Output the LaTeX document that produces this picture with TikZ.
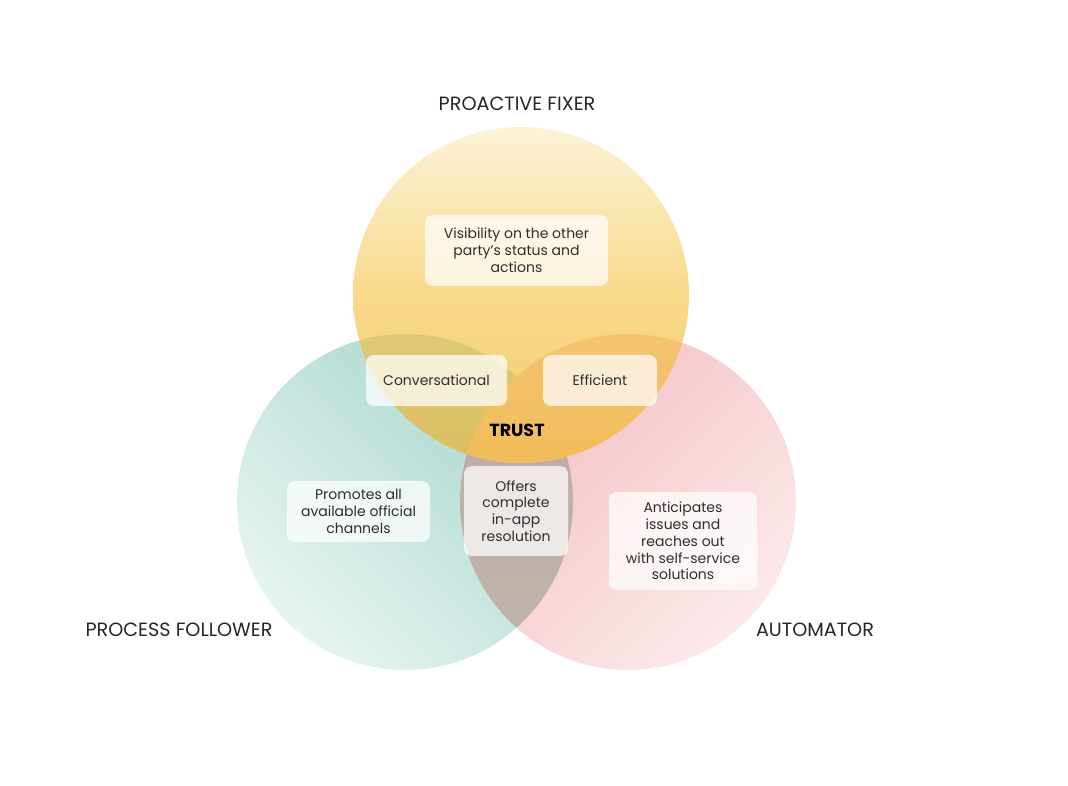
\documentclass[tikz,border=0pt]{standalone}
\usepackage{fontspec}
\setmainfont{Poppins}
\definecolor{ytop}{HTML}{FCF2D8}
\definecolor{ymid}{HTML}{F8D98A}
\definecolor{ybot}{HTML}{F5CB6C}
\definecolor{tdark}{HTML}{A6D6CB}
\definecolor{tlight}{HTML}{E6F4F1}
\definecolor{pdark}{HTML}{F3BEC1}
\definecolor{plight}{HTML}{FCE9EA}
\definecolor{lenstop}{HTML}{C2A9A3}
\definecolor{lensbot}{HTML}{BDB4AD}
\definecolor{olivetop}{HTML}{DEC975}
\definecolor{olivebot}{HTML}{DBBD5F}
\definecolor{orangetop}{HTML}{F4C372}
\definecolor{orangebot}{HTML}{F1BC58}
\definecolor{boxtext}{HTML}{2E2E2E}
\definecolor{labeltext}{HTML}{262626}
\tikzset{
  tbox/.style={rounded corners=8pt, fill=white, fill opacity=0.72, text opacity=1,
    text=boxtext, align=center, inner sep=0pt,
    font=\fontsize{14}{16.8}\selectfont},
  lbl/.style={text=labeltext, font=\fontsize{19.2}{22}\selectfont},
}
\begin{document}
\begin{tikzpicture}[x=1pt,y=1pt]
\useasboundingbox (0,0) rectangle (1068,786);
\coordinate (cy) at (521,491);
\coordinate (ct) at (405,284);
\coordinate (cp) at (628,284);
% base circles
\shade[top color=tdark, bottom color=tlight, shading angle=-45] (ct) circle (168);
\shade[top color=pdark, bottom color=plight, shading angle=45] (cp) circle (168);
% lens teal & pink
\begin{scope}
  \clip (ct) circle (168);
  \clip (cp) circle (168);
  \shade[top color=lenstop, bottom color=lensbot] (455,420) rectangle (580,150);
\end{scope}
% yellow circle
\shade[top color=ytop, bottom color=ybot, middle color=ymid] (cy) circle (168);
% yellow & teal
\begin{scope}
  \clip (cy) circle (168);
  \clip (ct) circle (168);
  \shade[top color=olivetop, bottom color=olivebot] (230,455) rectangle (700,320);
\end{scope}
% yellow & pink (incl. centre)
\begin{scope}
  \clip (cy) circle (168);
  \clip (cp) circle (168);
  \shade[top color=orangetop, bottom color=orangebot] (400,455) rectangle (700,320);
\end{scope}
% boxes
\node[tbox, minimum width=183pt, minimum height=71pt] (vis) at (516.5,535.5)
  {Visibility on the other\\party’s status and\\actions};
\node[tbox, minimum width=141pt, minimum height=51pt] (conv) at (436.5,405.5) {Conversational};
\node[tbox, minimum width=114pt, minimum height=51pt] (eff) at (600,405.5) {Efficient};
\node[tbox, minimum width=104pt, minimum height=90pt] (offers) at (516,275)
  {Offers\\complete\\in-app\\resolution};
\node[tbox, minimum width=143pt, minimum height=61pt] (prom) at (358.5,274.5)
  {Promotes all\\available official\\channels};
\node[tbox, minimum width=148pt, minimum height=98pt] (ant) at (683,245)
  {Anticipates\\issues and\\reaches out\\with self-service\\solutions};
\node[font=\fontsize{17.5}{20}\selectfont\bfseries, text=black] (trust) at (517,356) {TRUST};
% labels
\node[lbl] (fixer) at (517,682) {PROACTIVE FIXER};
\node[lbl] (follower) at (179,156) {PROCESS FOLLOWER};
\node[lbl] (automator) at (815,156) {AUTOMATOR};
\end{tikzpicture}
\end{document}
